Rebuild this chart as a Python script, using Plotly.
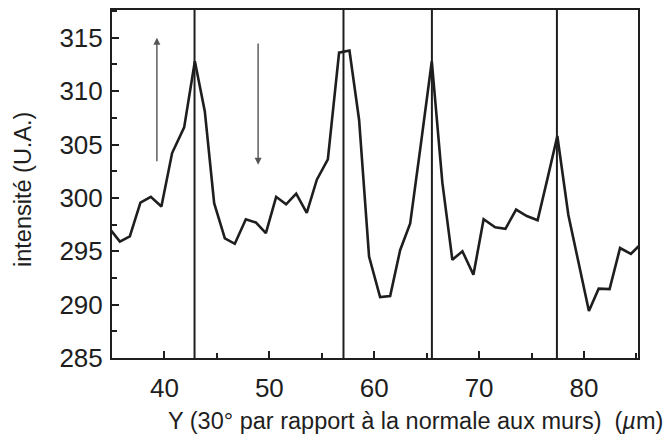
import plotly.graph_objects as go

# Data
y_pos = [34.8, 35.75, 36.70, 37.71, 38.70, 39.71, 40.73, 41.88, 42.90, 43.85,
         44.74, 45.76, 46.71, 47.76, 48.71, 49.67, 50.65, 51.60, 52.56, 53.57,
         54.53, 55.58, 56.65, 57.64, 58.56, 59.51, 60.56, 61.52, 62.47, 63.43,
         64.47, 65.49, 66.50, 67.45, 68.41, 69.46, 70.43, 71.53, 72.51, 73.53,
         74.55, 75.58, 76.52, 77.46, 78.51, 79.50, 80.47, 81.40, 82.44, 83.44,
         84.47, 85.45]
intensity = [297.1, 295.9, 296.4, 299.55, 300.1, 299.2, 304.2, 306.6, 312.8, 308.1,
             299.5, 296.2, 295.7, 298.0, 297.7, 296.7, 300.1, 299.4, 300.4, 298.6,
             301.7, 303.6, 313.6, 313.8, 307.3, 294.5, 290.7, 290.8, 295.1, 297.6,
             305.2, 312.8, 301.4, 294.2, 295.0, 292.8, 298.0, 297.25, 297.1, 298.9,
             298.3, 297.9, 301.8, 305.8, 298.4, 293.9, 289.4, 291.5, 291.45, 295.3,
             294.75, 295.7]
wall_positions = [42.87, 57.07, 65.5, 77.42]
arrow_x = [39.28, 48.93]
arrow_head_y = [315.0, 303.1]
arrow_tail_y = [303.3, 314.6]

x_ticks = [40, 50, 60, 70, 80]
y_ticks = [285, 290, 295, 300, 305, 310, 315]

INK = "#1e1e1e"
FONT = "Liberation Sans, Arial, sans-serif"

W, H = 671, 440
ML, MR, MT, MB = 112, 33, 10, 82
plot_w = W - ML - MR
plot_h = H - MT - MB


def px_to_paper_x(px):
    return (px - ML) / plot_w


def px_to_paper_y(py):
    return (H - MB - py) / plot_h


fig = go.Figure()
fig.add_trace(go.Scatter(x=y_pos, y=intensity, mode="lines",
                         line=dict(color=INK, width=2.6), showlegend=False,
                         hoverinfo="skip"))

for xv in wall_positions:
    fig.add_shape(type="line", x0=xv, x1=xv, y0=0, y1=1, xref="x", yref="paper",
                  line=dict(color=INK, width=2))

for ax_, hy, ty in zip(arrow_x, arrow_head_y, arrow_tail_y):
    fig.add_annotation(x=ax_, y=hy, ax=ax_, ay=ty, xref="x", yref="y",
                       axref="x", ayref="y", showarrow=True, text="",
                       arrowhead=2, arrowsize=1, arrowwidth=1.4,
                       arrowcolor="#555555")

fig.add_annotation(text="Y (30° par rapport à la normale aux murs)&nbsp;&nbsp;(<i>µ</i>m)",
                   x=px_to_paper_x(416), y=px_to_paper_y(421),
                   xref="paper", yref="paper", showarrow=False,
                   xanchor="center", yanchor="middle",
                   font=dict(family=FONT, size=23.5, color=INK))

fig.add_annotation(text="intensité (U.A.)",
                   x=px_to_paper_x(23), y=px_to_paper_y(190),
                   xref="paper", yref="paper", showarrow=False, textangle=-90,
                   xanchor="center", yanchor="middle",
                   font=dict(family=FONT, size=23.5, color=INK))

fig.update_layout(
    width=W, height=H,
    margin=dict(l=ML, r=MR, t=MT, b=MB),
    paper_bgcolor="white", plot_bgcolor="white",
    font=dict(family=FONT, size=26, color=INK),
    xaxis=dict(range=[35, 85.15], tickvals=x_ticks, ticks="inside", ticklen=7,
               tickwidth=2, tickcolor=INK, showline=True, linewidth=2,
               linecolor=INK, mirror=True, showgrid=False, zeroline=False,
               automargin=False, ticklabelstandoff=6,
               minor=dict(dtick=5, tick0=35, ticks="inside", ticklen=5,
                          tickwidth=1.5, tickcolor=INK),
               tickfont=dict(size=26)),
    yaxis=dict(range=[285, 317.6], tickvals=y_ticks, ticks="inside", ticklen=7,
               tickwidth=2, tickcolor=INK, showline=True, linewidth=2,
               linecolor=INK, mirror=True, showgrid=False, zeroline=False,
               automargin=False, ticklabelstandoff=2,
               minor=dict(dtick=2.5, tick0=285, ticks="inside", ticklen=5,
                          tickwidth=1.5, tickcolor=INK),
               tickfont=dict(size=26)),
)

fig.write_html("out.html", config={"displayModeBar": False},
               post_script="document.body.style.margin='0';document.body.style.overflow='hidden';")
